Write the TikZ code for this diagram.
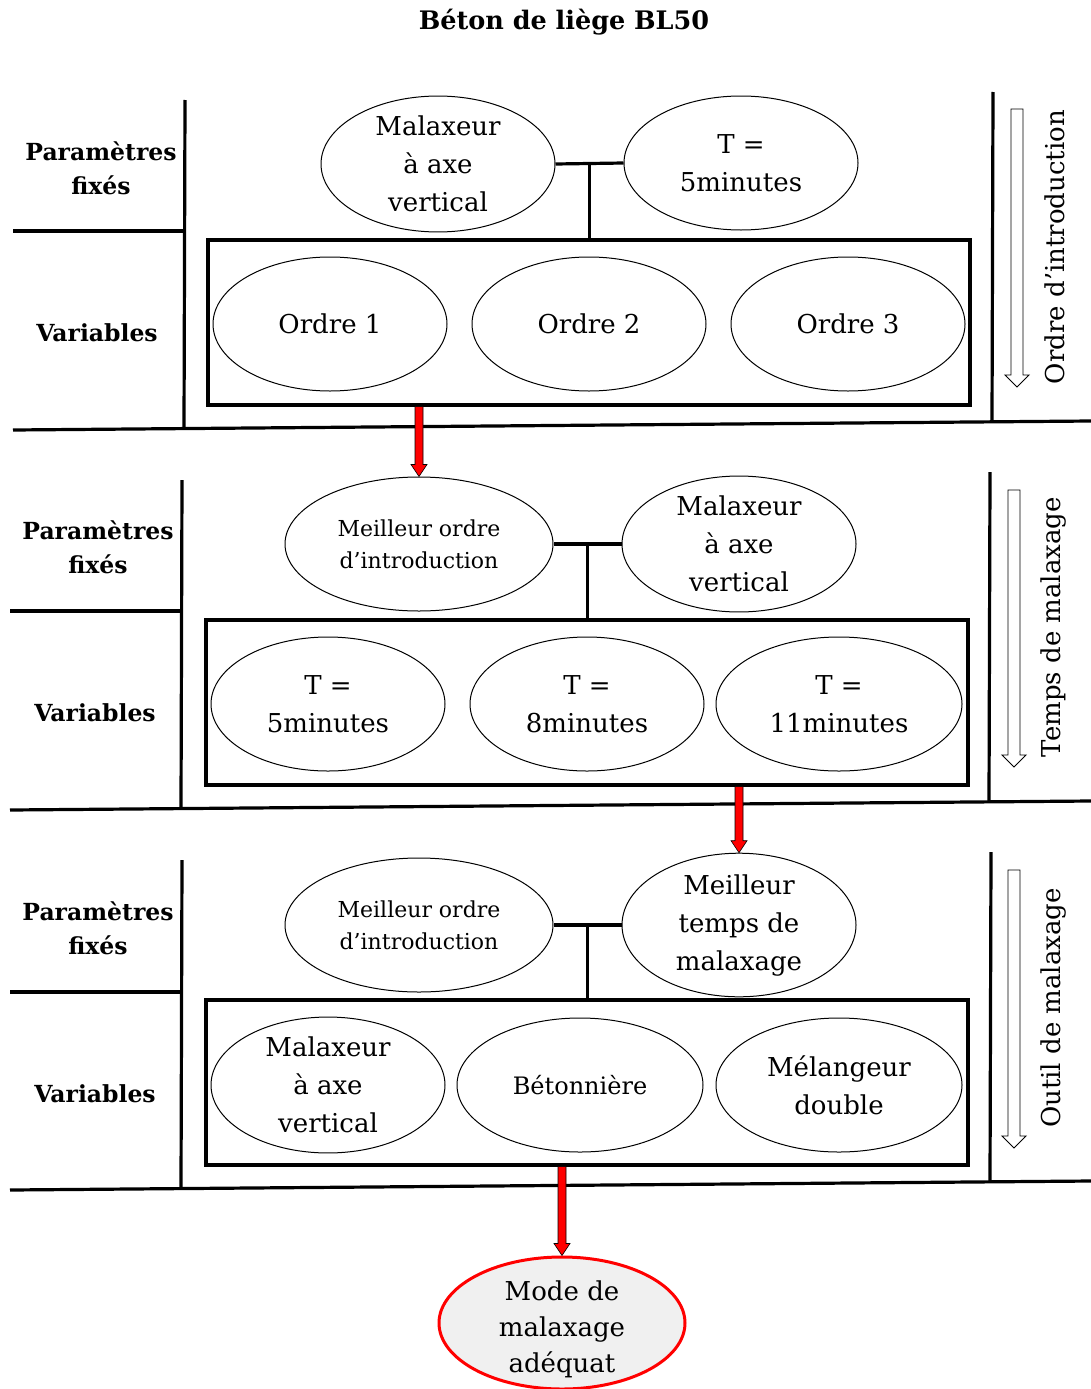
\documentclass[tikz,border=0pt]{standalone}
\usepackage{fontspec}
\setmainfont{DejaVu Serif}
\usetikzlibrary{shapes.geometric,calc}
\newcommand\bigtxt{\fontsize{26}{38}\selectfont}
\newcommand\smalltxt{\fontsize{22}{32}\selectfont}
\newcommand\lbltxt{\fontsize{23.5}{34}\selectfont\bfseries}
\newcommand\blockarrow[2]{%
  \filldraw[fill=red, draw=black, line width=0.6pt] let \p1=#1, \p2=#2 in
    (\x1-4pt,\y1) -- (\x1+4pt,\y1) -- (\x2+4pt,\y2+12pt) -- (\x2+8pt,\y2+12pt) --
    (\x2,\y2) -- (\x2-8pt,\y2+12pt) -- (\x2-4pt,\y2+12pt) -- cycle;}
\newcommand\hollowarrow[3]{% x, ytop, ytip
  \draw[line width=0.9pt, fill=white] ({#1-6},#2) -- ({#1+6},#2) -- ({#1+6},{#3-12}) -- ({#1+12},{#3-12}) --
    (#1,#3) -- ({#1-12},{#3-12}) -- ({#1-6},{#3-12}) -- cycle;}
\begin{document}
\begin{tikzpicture}[x=1pt,y=-1pt,
  ell/.style={ellipse, draw, line width=1pt, inner sep=0pt, minimum width=234pt, minimum height=134pt, align=center, font=\bigtxt},
  ellw/.style={ell, minimum width=246pt},
  ells/.style={ell, minimum width=268pt, font=\smalltxt},
  varbox/.style={rectangle, draw, line width=3.2pt, minimum width=762pt, minimum height=165pt, inner sep=0pt},
  rule/.style={line width=3.2pt},
  lbl/.style={align=center, font=\lbltxt},
  side/.style={rotate=90, font=\bigtxt},
  title/.style={font=\fontsize{25.5}{30}\selectfont\bfseries}]
\useasboundingbox (0,0) rectangle (1091,1389);
\node[title] (title) at (564,22) {Béton de liège BL50};

% ---------- Section 1 ----------
\draw[rule] (185,100) -- (184,428);
\draw[rule] (13,231) -- (185,231);
\draw[rule] (13,430) -- (1091,421);
\draw[rule] (993,92) -- (992,421);
\node[lbl] (l1a) at (101,168) {Paramètres\\fixés};
\node[lbl] (l1b) at (97,333) {Variables};
\node[varbox] (box1) at (589,322.5) {};
\node[ell] (p1a) at (438,164) {Malaxeur\\à axe\\vertical};
\node[ell] (p1b) at (741,163) {T =\\5minutes};
\draw[rule] (p1a.east) -- (p1b.west);
\coordinate (j1) at ($(p1a.east)!0.5!(p1b.west)$);
\draw[rule] (j1) -- (j1 |- box1.north);
\node[ell] (v1a) at (330,324) {Ordre 1};
\node[ell] (v1b) at (589,324) {Ordre 2};
\node[ell] (v1c) at (848,324) {Ordre 3};
\hollowarrow{1017}{109}{387}
\node[side] (s1) at (1055,247) {Ordre d’introduction};

% ---------- Section 2 ----------
\draw[rule] (182,480) -- (181,808);
\draw[rule] (10,611) -- (182,611);
\draw[rule] (10,810) -- (1091,801);
\draw[rule] (990,472) -- (989,801);
\node[lbl] (l2a) at (98,547) {Paramètres\\fixés};
\node[lbl] (l2b) at (95,713) {Variables};
\node[varbox] (box2) at (587,702.5) {};
\node[ells] (p2a) at (419,544) {Meilleur ordre\\d’introduction};
\node[ell] (p2b) at (739,544) {Malaxeur\\à axe\\vertical};
\draw[rule] (p2a.east) -- (p2b.west);
\coordinate (j2) at ($(p2a.east)!0.5!(p2b.west)$);
\draw[rule] (j2) -- (j2 |- box2.north);
\node[ell] (v2a) at (328,704) {T =\\5minutes};
\node[ell] (v2b) at (587,704) {T =\\8minutes};
\node[ellw] (v2c) at (839,704) {T =\\11minutes};
\hollowarrow{1014}{490}{767}
\node[side] (s2) at (1053,627) {Temps de malaxage};

% ---------- Section 3 ----------
\draw[rule] (182,860) -- (181,1188);
\draw[rule] (10,992) -- (182,992);
\draw[rule] (10,1190) -- (1091,1181);
\draw[rule] (991,852) -- (990,1182);
\node[lbl] (l3a) at (98,928) {Paramètres\\fixés};
\node[lbl] (l3b) at (95,1094) {Variables};
\node[varbox] (box3) at (587,1082.5) {};
\node[ells] (p3a) at (419,925) {Meilleur ordre\\d’introduction};
\node[ell] (p3b) at (739,925) {Meilleur\\temps de\\malaxage};
\draw[rule] (p3a.east) -- (p3b.west);
\coordinate (j3) at ($(p3a.east)!0.5!(p3b.west)$);
\draw[rule] (j3) -- (j3 |- box3.north);
\node[ell] (v3a) at (328,1085) {Malaxeur\\à axe\\vertical};
\node[ellw, font=\fontsize{24}{32}\selectfont] (v3b) at (580,1085) {Bétonnière};
\node[ellw] (v3c) at (839,1085) {Mélangeur\\double};
\hollowarrow{1014}{870}{1148}
\node[side] (s3) at (1053,1008) {Outil de malaxage};

% ---------- Result ----------
\node[ellw, draw=red, line width=3pt, fill=gray!12, minimum height=132pt, font=\fontsize{26}{36}\selectfont] (fin) at (562,1323)
  {\smash{\raisebox{-13pt}{\begin{tabular}{@{}c@{}}Mode de\\malaxage\\adéquat\end{tabular}}}};

% ---------- Red arrows ----------
\blockarrow{(box1.south -| p2a.north)}{(p2a.north)}
\blockarrow{(box2.south -| p3b.north)}{(p3b.north)}
\blockarrow{(box3.south -| fin.north)}{(fin.north)}
\end{tikzpicture}
\end{document}
